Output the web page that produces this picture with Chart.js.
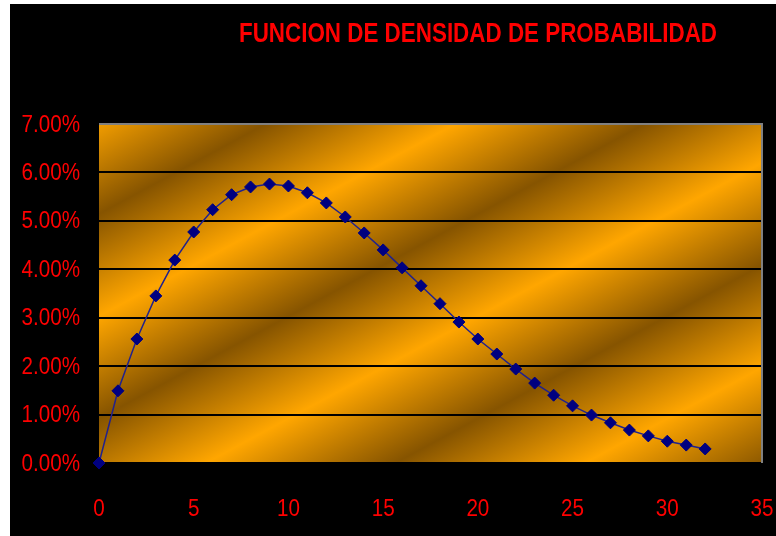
<!DOCTYPE html>
<html>
<head>
<meta charset="utf-8">
<script src="https://cdn.jsdelivr.net/npm/chart.js@4.4.1/dist/chart.umd.min.js"></script>
<style>
  html, body { margin: 0; padding: 0; background: #ffffff; width: 776px; height: 536px; overflow: hidden; }
  #wrap { position: absolute; left: 10px; top: 4px; width: 766px; height: 532px; background: #000000; }
  canvas { display: block; }
</style>
</head>
<body>
<div id="wrap"><canvas id="chart" width="766" height="532"></canvas></div>
<script>
// Probability density, in percent, at each integer x
const chartTitle = 'FUNCION DE DENSIDAD DE PROBABILIDAD';
const xValues = [0, 1, 2, 3, 4, 5, 6, 7, 8, 9, 10, 11, 12, 13, 14, 15, 16,
                 17, 18, 19, 20, 21, 22, 23, 24, 25, 26, 27, 28, 29, 30, 31, 32];
const density = [0.00, 1.49, 2.56, 3.45, 4.19, 4.77, 5.23, 5.54, 5.70, 5.76, 5.72,
                 5.58, 5.37, 5.08, 4.75, 4.40, 4.03, 3.66, 3.29, 2.91, 2.56, 2.25,
                 1.94, 1.65, 1.40, 1.18, 0.99, 0.83, 0.68, 0.56, 0.45, 0.37, 0.29];
const yRange = { min: 0, max: 7, step: 1 };
const xRange = { min: 0, max: 35, step: 5 };

const RED = '#ff0000';
const FONT = "'Liberation Sans', Arial, sans-serif";
const NARROW = 0.86;   // horizontal squeeze for the condensed lettering

const points = xValues.map((x, i) => ({ x: x, y: density[i] }));

function narrowText(ctx, text, x, y, align, font, squeeze) {
  ctx.save();
  ctx.font = font;
  ctx.fillStyle = RED;
  ctx.textAlign = align;
  ctx.textBaseline = 'middle';
  ctx.translate(x, y);
  ctx.scale(squeeze, 1);
  ctx.fillText(text, 0, 0);
  ctx.restore();
}

// Black page, striped gold plot background, gray frame, axis labels and title
const backdrop = {
  id: 'backdrop',
  beforeDraw(chart) {
    const { ctx, chartArea: a, width, height } = chart;
    ctx.save();
    ctx.fillStyle = '#000000';
    ctx.fillRect(0, 0, width, height);

    // diagonal bands running up to the right
    const g = ctx.createLinearGradient(22.3, 41.4, 364.3, 675.0);
    const dark = 'rgb(134,84,0)';
    const light = 'rgb(255,166,0)';
    for (let k = 0; k <= 8; k++) {
      g.addColorStop(k / 8, k % 2 === 0 ? dark : light);
    }
    ctx.fillStyle = g;
    ctx.fillRect(a.left, a.top, a.right - a.left, a.bottom - a.top);
    ctx.restore();
  },
  beforeDatasetsDraw(chart) {
    const { ctx, chartArea: a } = chart;
    ctx.save();
    ctx.strokeStyle = '#808080';
    ctx.lineWidth = 2;
    ctx.beginPath();
    ctx.moveTo(a.left, a.top);
    ctx.lineTo(a.right, a.top);
    ctx.lineTo(a.right, a.bottom);
    ctx.stroke();
    ctx.restore();
  },
  afterDraw(chart) {
    const { ctx } = chart;
    const xs = chart.scales.x;
    const ys = chart.scales.y;
    const tickFont = '24px ' + FONT;

    ys.ticks.forEach(t => {
      narrowText(ctx, t.label, ys.right - 19, ys.getPixelForValue(t.value) + 1, 'right', tickFont, NARROW);
    });
    xs.ticks.forEach(t => {
      narrowText(ctx, t.label, xs.getPixelForValue(t.value), xs.top + 46, 'center', tickFont, NARROW);
    });

    narrowText(ctx, chartTitle, 468, 31, 'center', 'bold 27px ' + FONT, 0.83);
  }
};

new Chart(document.getElementById('chart'), {
  type: 'line',
  data: {
    datasets: [{
      data: points,
      borderColor: '#22228c',
      borderWidth: 1.5,
      pointStyle: 'rectRot',
      pointRadius: 6,
      pointHoverRadius: 6,
      pointBackgroundColor: '#000080',
      pointBorderColor: '#000080',
      pointBorderWidth: 1,
      tension: 0,
      clip: false
    }]
  },
  options: {
    responsive: false,
    animation: false,
    devicePixelRatio: 1,
    layout: { padding: { left: 0, right: 14, top: 120, bottom: 0 } },
    plugins: {
      legend: { display: false },
      title: { display: false },
      tooltip: { enabled: false }
    },
    scales: {
      x: {
        type: 'linear',
        min: xRange.min,
        max: xRange.max,
        afterFit(scale) { scale.height = 73; },
        grid: { display: false, drawTicks: false },
        border: { display: true, color: '#000000', width: 2 },
        ticks: {
          display: false,
          stepSize: xRange.step,
          maxRotation: 0
        }
      },
      y: {
        min: yRange.min,
        max: yRange.max,
        afterFit(scale) { scale.width = 89; },
        grid: { color: '#000000', lineWidth: 2, drawTicks: false },
        border: { display: false },
        ticks: {
          display: false,
          stepSize: yRange.step,
          callback: v => v.toFixed(2) + '%'
        }
      }
    }
  },
  plugins: [backdrop]
});
</script>
</body>
</html>
